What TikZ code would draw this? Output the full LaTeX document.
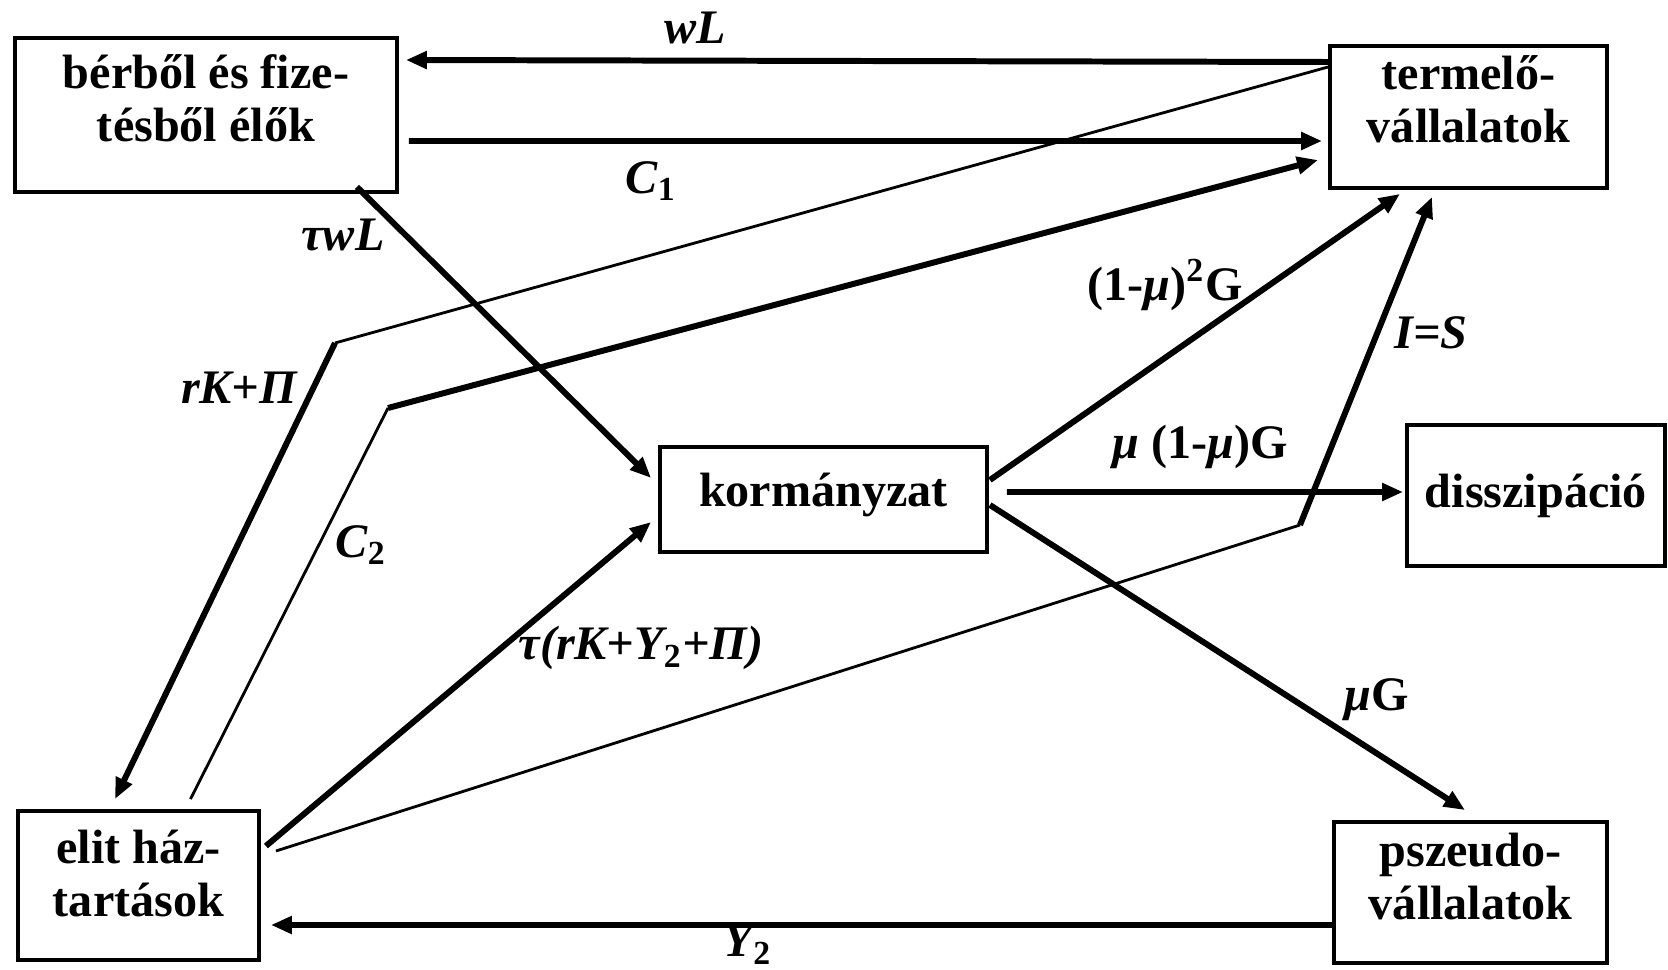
\documentclass[tikz,border=0pt]{standalone}
\usepackage{fontspec}
\setmainfont{Liberation Serif}
\usetikzlibrary{arrows.meta,calc}
\tikzset{
  >={Triangle[length=2.1mm,width=1.7mm]},
  box/.style={draw=black,line width=1.1pt,inner sep=0pt},
  boxtxt/.style={align=center,font=\fontsize{13.7}{15}\selectfont\bfseries,inner sep=0pt},
  flow/.style={->,line width=1.7pt},
  thk/.style={line width=1.7pt},
  thn/.style={line width=0.8pt},
  lbl/.style={font=\fontsize{13.7}{15}\selectfont\bfseries\itshape,inner sep=1pt},
  lblup/.style={font=\fontsize{13.7}{15}\selectfont\bfseries,inner sep=1pt},
}
\newcommand{\sbs}[1]{\textsubscript{\upshape #1}}

\begin{document}
\begin{tikzpicture}
  \useasboundingbox (0,0) rectangle (16.68,-9.70);
  % boxes
  \node[box,minimum width=3.82cm,minimum height=1.54cm] (ber) at (2.06,-1.15) {};
  \node[box,minimum width=2.77cm,minimum height=1.42cm] (term) at (14.685,-1.17) {};
  \node[box,minimum width=3.27cm,minimum height=1.05cm] (korm) at (8.235,-4.995) {};
  \node[box,minimum width=2.58cm,minimum height=1.41cm] (diss) at (15.36,-4.955) {};
  \node[box,minimum width=2.41cm,minimum height=1.49cm] (elit) at (1.385,-8.855) {};
  \node[box,minimum width=2.73cm,minimum height=1.41cm] (psz) at (14.705,-8.925) {};
  \node[boxtxt] (bertxt) at ([yshift=1.7mm]ber.center) {bérből és fize-\\tésből élők};
  \node[boxtxt] (termtxt) at ([yshift=1.8mm]term.center) {termelő-\\vállalatok};
  \node[boxtxt] (kormtxt) at ([yshift=0.5mm]korm.center) {kormányzat};
  \node[boxtxt] (disstxt) at (diss.center) {disszipáció};
  \node[boxtxt] (elittxt) at ([yshift=1.2mm]elit.center) {elit ház-\\tartások};
  \node[boxtxt] (psztxt) at ([yshift=1.6mm]psz.center) {pszeudo-\\vállalatok};

  % bends of the broken lines
  \coordinate (rkbend) at (3.35,-3.43);
  \coordinate (cbend) at (3.88,-4.08);
  \coordinate (isbend) at (13.00,-5.25);

  % flows
  \draw[flow] ([yshift=5.5mm]term.west) -- ([xshift=0.7mm,yshift=5.5mm]ber.east);
  \draw[flow] ([xshift=1mm,yshift=-2.6mm]ber.east) -- ([xshift=-0.6mm,yshift=-2.4mm]term.west);
  \draw[thn] ([yshift=5mm]term.west) -- (rkbend);
  \draw[flow] (rkbend) -- ([xshift=-2.35mm,yshift=1mm]elit.north);
  \draw[thn] ([xshift=5.2mm,yshift=1mm]elit.north) -- (cbend);
  \draw[flow] (cbend) -- ([xshift=-1mm,yshift=-4.3mm]term.west);
  \draw[flow] ([xshift=-4.2mm,yshift=0.7mm]ber.south east) -- ([xshift=-0.7mm,yshift=2.15mm]korm.west);
  \draw[flow] ([xshift=0.5mm,yshift=3.95mm]elit.east) -- ([xshift=-0.7mm,yshift=-2.25mm]korm.west);
  \draw[flow] ([xshift=0.1mm,yshift=1.95mm]korm.east) -- ([xshift=-6.85mm,yshift=-0.4mm]term.south);
  \draw[thn] ([xshift=1.5mm,yshift=3.45mm]elit.east) -- (isbend);
  \draw[flow] (isbend) -- ([xshift=-3.65mm,yshift=-0.7mm]term.south);
  \draw[flow] ([xshift=1.8mm,yshift=0.75mm]korm.east) -- ([xshift=-0.2mm,yshift=0.35mm]diss.west);
  \draw[flow] ([xshift=0.1mm,yshift=-0.55mm]korm.east) -- ([xshift=-0.55mm,yshift=1mm]psz.north);
  \draw[flow] ([yshift=-3.25mm]psz.west) -- ([xshift=1mm,yshift=-3.95mm]elit.east);

  % labels
  \node[lbl] (lwl) at (6.95,-0.28) {wL};
  \node[lbl] (lc1) at (6.51,-1.81) {C\sbs{1}};
  \node[lbl] (ltwl) at (3.43,-2.35) {τwL};
  \node[lbl] (lrk) at (2.39,-3.88) {rK+Π};
  \node[lbl] (lc2) at (3.61,-5.45) {C\sbs{2}};
  \node[lbl] (ltax) at (6.41,-6.48) {τ(rK+Y\sbs{2}+Π)};
  \node[lblup] (lgt) at (11.65,-2.85) {(1-\textit{μ})\textsuperscript{2}G};
  \node[lbl] (lis) at (14.31,-3.33) {I=S};
  \node[lblup] (lgd) at (12.00,-4.47) {\textit{μ} (1-\textit{μ})G};
  \node[lblup] (lgp) at (13.77,-7.00) {\textit{μ}G};
  \node[lbl] (ly2) at (7.48,-9.45) {Y\sbs{2}};
\end{tikzpicture}
\end{document}
